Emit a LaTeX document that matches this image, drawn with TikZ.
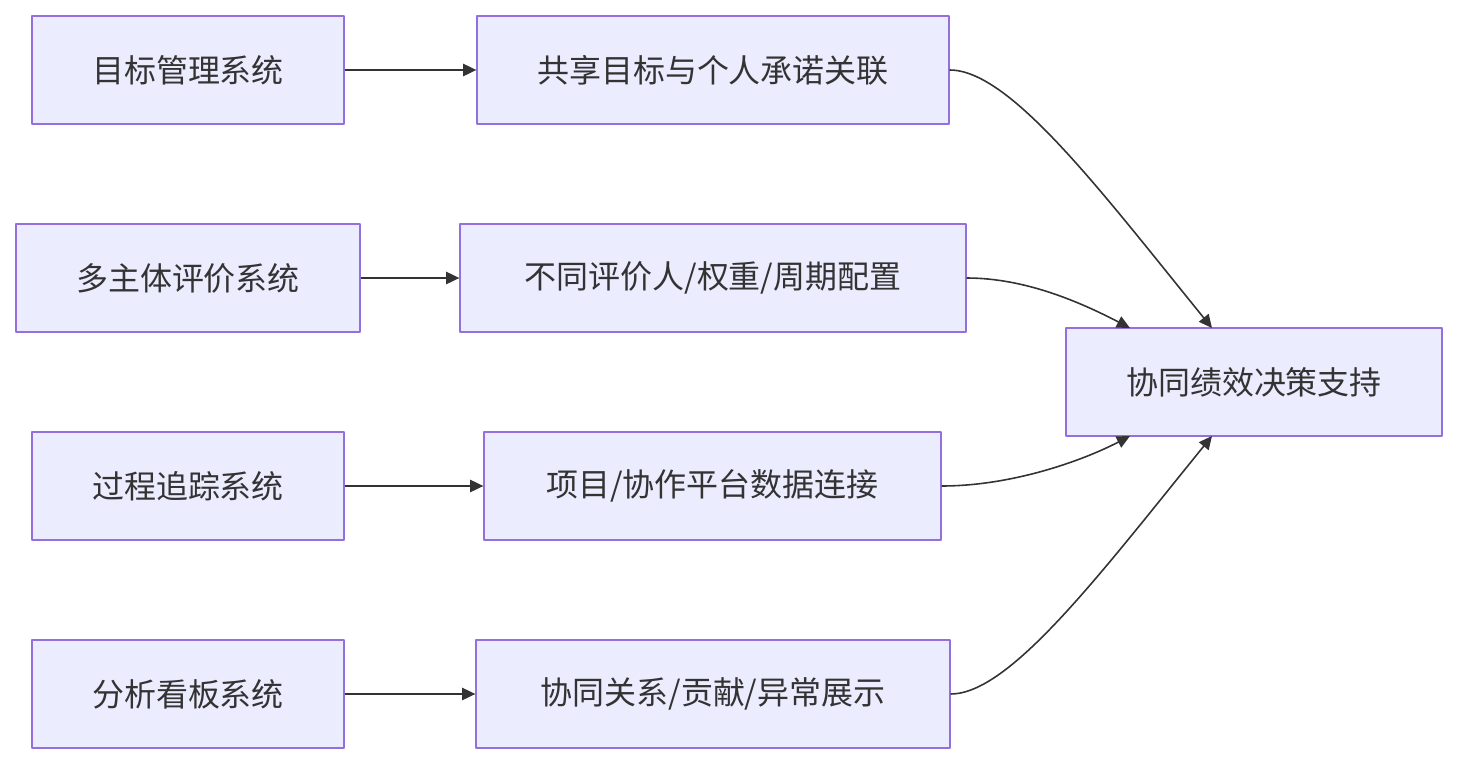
\documentclass[tikz,border=0pt]{standalone}
\usepackage{fontspec}
\setmainfont{Noto Sans CJK SC}
\usetikzlibrary{arrows.meta}
\definecolor{boxfill}{HTML}{ECECFF}
\definecolor{boxline}{HTML}{9370DB}
\definecolor{linkc}{HTML}{333333}

\begin{document}
\begin{tikzpicture}[x=0.02cm,y=-0.02cm,line join=round,>={Triangle[length=7.5pt,width=7pt]},
	hop/.style={draw=boxline,fill=boxfill,line width=0.8pt,minimum height=2.16cm,inner sep=0pt,
		font=\fontsize{18.2}{21}\selectfont,text=linkc},
	link/.style={->,draw=linkc,line width=0.9pt}]
	\useasboundingbox (0,0) rectangle (1457,764);
	% Cột trái: các hệ thống
	\node[hop,minimum width=6.24cm] (mb) at (188,70) {目标管理系统};
	\node[hop,minimum width=6.88cm] (dzt) at (188,278) {多主体评价系统};
	\node[hop,minimum width=6.24cm] (gc) at (188,486) {过程追踪系统};
	\node[hop,minimum width=6.24cm] (fx) at (188,694) {分析看板系统};
	% Cột giữa
	\node[hop,minimum width=9.44cm] (gx) at (713,70) {共享目标与个人承诺关联};
	\node[hop,minimum width=10.12cm] (pj) at (713,278) {不同评价人/权重/周期配置};
	\node[hop,minimum width=9.14cm] (xm) at (712.5,486) {项目/协作平台数据连接};
	\node[hop,minimum width=9.48cm] (gxz) at (713,694) {协同关系/贡献/异常展示};
	% Hình phải
	\node[hop,minimum width=7.52cm] (jc) at (1254,382) {协同绩效决策支持};
	\coordinate (T1) at (1212,328);
	\coordinate (T2) at (1130,328);
	\coordinate (B1) at (1130,436);
	\coordinate (B2) at (1212,436);
	\draw[link] (mb) -- (gx);
	\draw[link] (dzt) -- (pj);
	\draw[link] (gc) -- (xm);
	\draw[link] (fx) -- (gxz);
	\draw[link] (gx.east) .. controls (1010,70) and (1100,190) .. (T1);
	\draw[link] (pj.east) .. controls (1025,278) and (1080,302) .. (T2);
	\draw[link] (xm.east) .. controls (1010,486) and (1080,462) .. (B1);
	\draw[link] (gxz.east) .. controls (1010,694) and (1100,574) .. (B2);
\end{tikzpicture}
\end{document}
